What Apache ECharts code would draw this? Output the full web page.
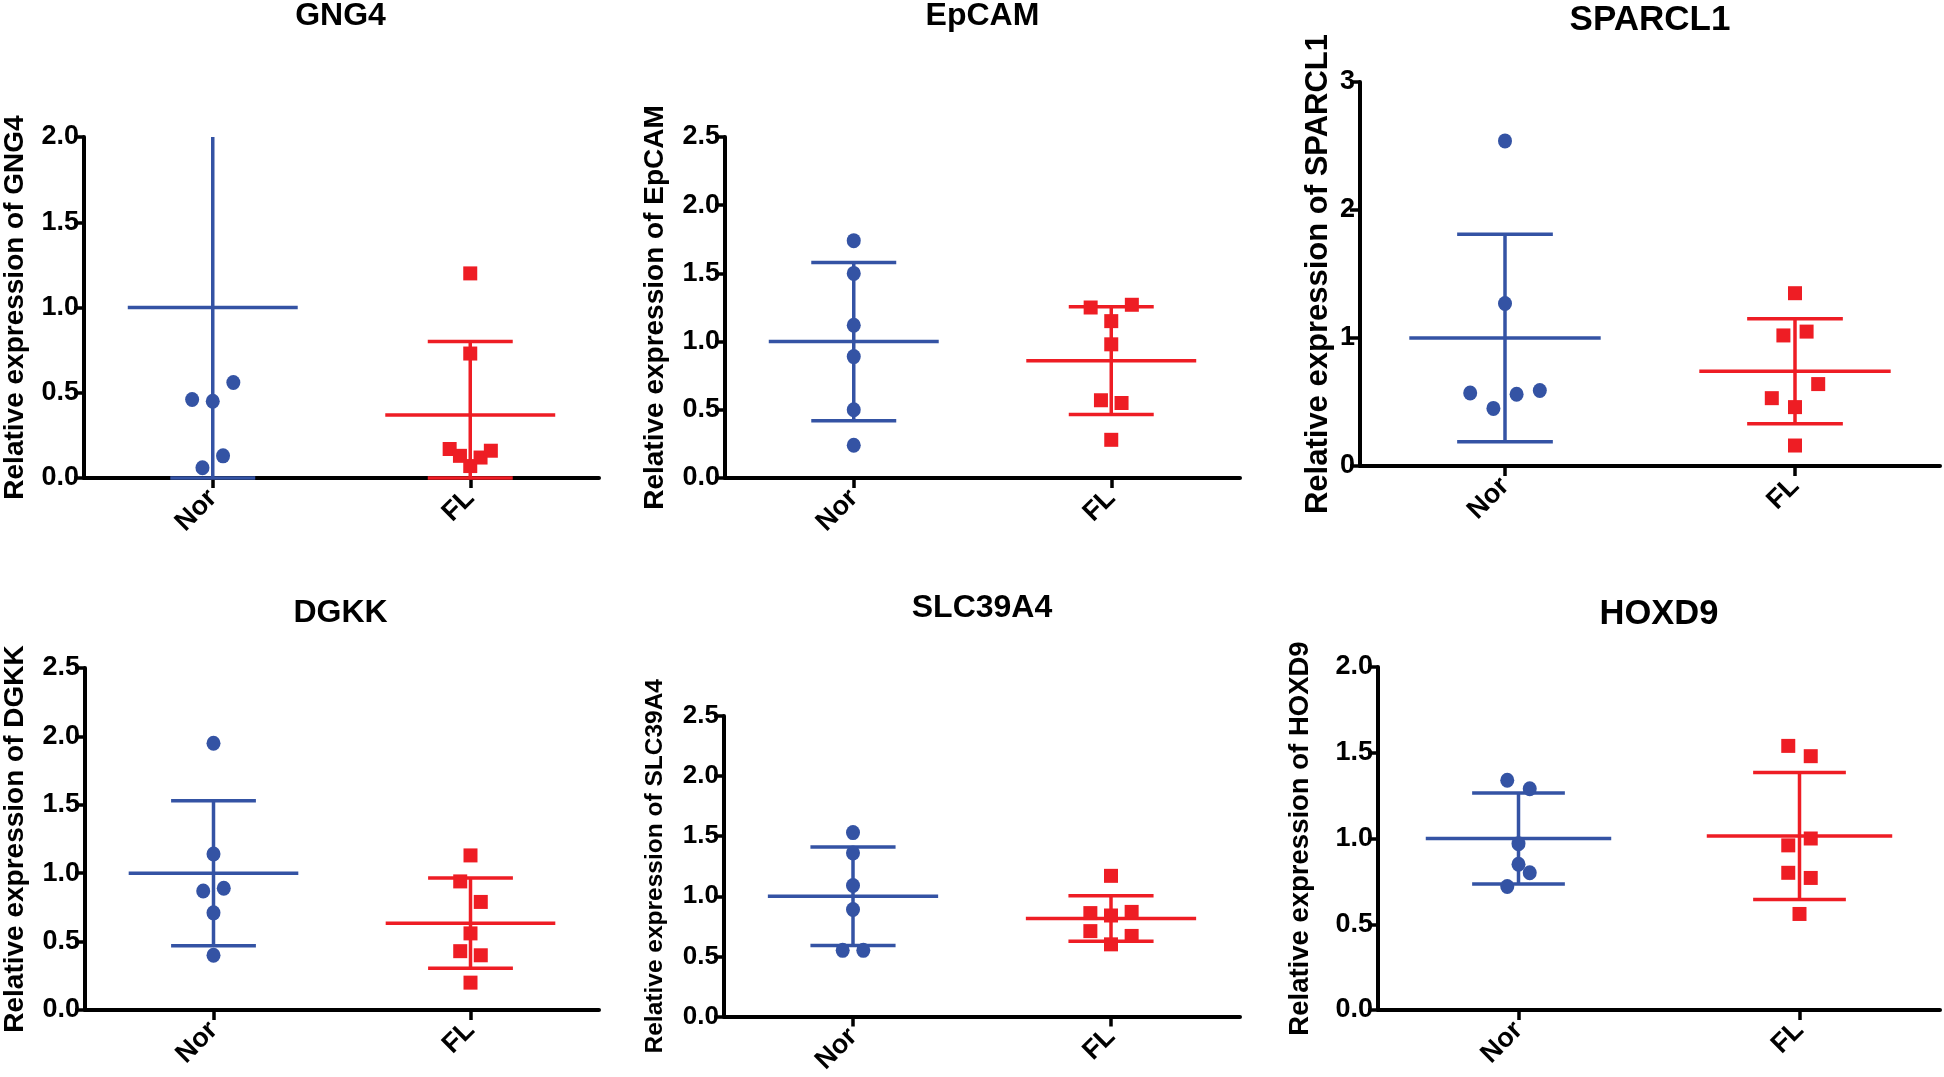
<!DOCTYPE html>
<html>
<head>
<meta charset="utf-8">
<script src="https://cdn.jsdelivr.net/npm/echarts@6/dist/echarts.min.js"></script>
<style>
html,body{margin:0;padding:0;background:#fff;}
#chart{width:1944px;height:1077px;}
</style>
</head>
<body>
<div id="chart"></div>
<script>
// ---------------- DATA ----------------
const genes = ['GNG4', 'EpCAM', 'SPARCL1', 'DGKK', 'SLC39A4', 'HOXD9'];
const groups = ['Nor', 'FL'];

// individual values (relative expression)
const norValues = [
  [0.46, 0.45, 0.56, 0.13, 0.06],
  [1.74, 1.50, 1.12, 0.89, 0.50, 0.24],
  [2.54, 1.27, 0.57, 0.45, 0.56, 0.59],
  [1.95, 1.14, 0.87, 0.89, 0.71, 0.40],
  [1.53, 1.36, 1.09, 0.89, 0.55, 0.55],
  [1.34, 1.29, 0.97, 0.85, 0.80, 0.72]
];
const flValues = [
  [1.20, 0.73, 0.17, 0.13, 0.07, 0.12, 0.16],
  [1.25, 1.27, 1.15, 0.98, 0.57, 0.55, 0.28],
  [1.35, 1.02, 1.05, 0.64, 0.53, 0.46, 0.16],
  [1.13, 0.94, 0.79, 0.56, 0.43, 0.40, 0.20],
  [1.17, 0.86, 0.84, 0.87, 0.71, 0.67, 0.60],
  [1.54, 1.48, 1.00, 0.96, 0.80, 0.77, 0.56]
];
// horizontal jitter slot of each point (scatter spread)
const norJitter = [
  [-2, 0, 2, 1, -1],
  [0, 0, 0, 0, 0, 0],
  [0, 0, -3, -1, 1, 3],
  [0, 0, -1, 1, 0, 0],
  [0, 0, 0, 0, -1, 1],
  [-1, 1, 0, 0, 1, -1]
];
const flJitter = [
  [0, 0, -2, -1, 0, 1, 2],
  [-2, 2, 0, 0, -1, 1, 0],
  [0, -1, 1, 2, -2, 0, 0],
  [0, -1, 1, 0, -1, 1, 0],
  [0, -2, 0, 2, -2, 2, 0],
  [-1, 1, 1, -1, -1, 1, 0]
];
// mean and SD
const norMean = [1.00, 1.00, 1.00, 1.00, 1.00, 1.00];
const norSD   = [1.00, 0.58, 0.81, 0.53, 0.41, 0.265];
const flMean  = [0.37, 0.86, 0.74, 0.635, 0.815, 1.015];
const flSD    = [0.43, 0.395, 0.41, 0.33, 0.19, 0.37];

// y axis scales
const yMax  = [2.0, 2.5, 3, 2.5, 2.5, 2.0];
const yStep = [0.5, 0.5, 1, 0.5, 0.5, 0.5];

// ---------------- LAYOUT / STYLE ----------------
const LAYOUT = [
  [82, 137, 517, 341],
  [725, 137, 515, 341],
  [1360, 82, 580, 384],
  [82, 668, 517, 342],
  [724, 716, 516, 303],
  [1378, 667, 562, 343]
];
const titleY    = [16, 16, 20, 613, 608, 614];
const titleFont = [32, 32, 35, 32, 32, 34.5];
const nameFont  = [28, 28, 31, 28, 24.5, 27.5];
const nameDist  = [69, 70, 42, 70, 69, 77];
const tickFont  = [27, 27, 27, 27, 26, 27];
const COLORS = ['#3453A4', '#EE1D24'];
const FONT = 'Liberation Sans, Arial, sans-serif';
const JSTEP = 0.04, MEAN_HW = 0.33, CAP_HW = 0.165;

const grids = [], xAxes = [], yAxes = [], series = [], graphics = [];

genes.forEach((gene, i) => {
  const [l, t, w, h] = LAYOUT[i];
  grids.push({ left: l, top: t, width: w, height: h });
  // visible category axis
  xAxes.push({
    gridIndex: i, type: 'category', data: groups, boundaryGap: true,
    axisLine: { show: true, onZero: false, lineStyle: { color: '#000', width: 4 } },
    axisTick: { show: true, alignWithLabel: true, length: 10, lineStyle: { color: '#000', width: 3.5 } },
    axisLabel: { rotate: 45, interval: 0, margin: 16, fontSize: 27, fontWeight: 'bold', color: '#000', fontFamily: FONT },
    splitLine: { show: false }
  });
  // hidden value axis used for plotting (categories at 0 and 1)
  xAxes.push({ gridIndex: i, type: 'value', min: -0.5, max: 1.5, show: false,
               axisLine: { onZero: false }, splitLine: { show: false } });
  yAxes.push({
    gridIndex: i, type: 'value', min: 0, max: yMax[i], interval: yStep[i],
    axisLine: { show: true, onZero: false, lineStyle: { color: '#000', width: 4 } },
    axisTick: { show: true, length: 10, lineStyle: { color: '#000', width: 3.5 } },
    axisLabel: {
      margin: 5, fontSize: tickFont[i], fontWeight: 'bold', color: '#000', fontFamily: FONT,
      formatter: v => yStep[i] >= 1 ? String(Math.round(v)) : v.toFixed(1)
    },
    splitLine: { show: false },
    name: 'Relative expression of ' + gene,
    nameLocation: 'middle',
    nameGap: nameDist[i] - nameFont[i] / 2,
    nameTextStyle: { fontSize: nameFont[i], fontWeight: 'bold', color: '#000', fontFamily: FONT }
  });
  graphics.push({
    type: 'text', x: l + w / 2, y: titleY[i],
    style: { text: gene, fontSize: titleFont[i], fontWeight: 'bold', fill: '#000', fontFamily: FONT,
             align: 'center', verticalAlign: 'middle' }
  });

  const groupVals = [norValues[i], flValues[i]];
  const groupJit = [norJitter[i], flJitter[i]];
  const groupStats = [[norMean[i], norSD[i]], [flMean[i], flSD[i]]];
  groups.forEach((g, gi) => {
    const color = COLORS[gi];
    series.push({
      type: 'custom', xAxisIndex: 2 * i + 1, yAxisIndex: i, clip: false, z: 2,
      data: [[gi, groupStats[gi][0], groupStats[gi][1]]],
      renderItem: (params, api) => {
        const x = api.value(0), m = api.value(1), sd = api.value(2);
        const max = yMax[i];
        const hiRaw = m + sd, loRaw = m - sd;
        const hi = Math.min(max, hiRaw), lo = Math.max(0, loRaw);
        const st = { stroke: color, lineWidth: 3.5, fill: null };
        const line = (p1, p2) => ({ type: 'line', shape: { x1: p1[0], y1: p1[1], x2: p2[0], y2: p2[1] }, style: st });
        const kids = [
          line(api.coord([x - MEAN_HW, m]), api.coord([x + MEAN_HW, m])),
          line(api.coord([x, lo]), api.coord([x, hi]))
        ];
        if (hiRaw < max) kids.push(line(api.coord([x - CAP_HW, hi]), api.coord([x + CAP_HW, hi])));
        kids.push(line(api.coord([x - CAP_HW, lo]), api.coord([x + CAP_HW, lo])));
        return { type: 'group', children: kids };
      }
    });
    series.push({
      type: 'scatter', xAxisIndex: 2 * i + 1, yAxisIndex: i, z: 3,
      symbol: gi === 0 ? 'circle' : 'rect',
      symbolSize: gi === 0 ? [14, 15] : [14, 14],
      itemStyle: { color: color, opacity: 1 },
      data: groupVals[gi].map((v, k) => [gi + groupJit[gi][k] * JSTEP, v])
    });
  });
});

const chart = echarts.init(document.getElementById('chart'), null, { renderer: 'canvas' });
chart.setOption({
  animation: false,
  backgroundColor: '#fff',
  grid: grids,
  xAxis: xAxes,
  yAxis: yAxes,
  series: series,
  graphic: graphics
});
</script>
</body>
</html>
